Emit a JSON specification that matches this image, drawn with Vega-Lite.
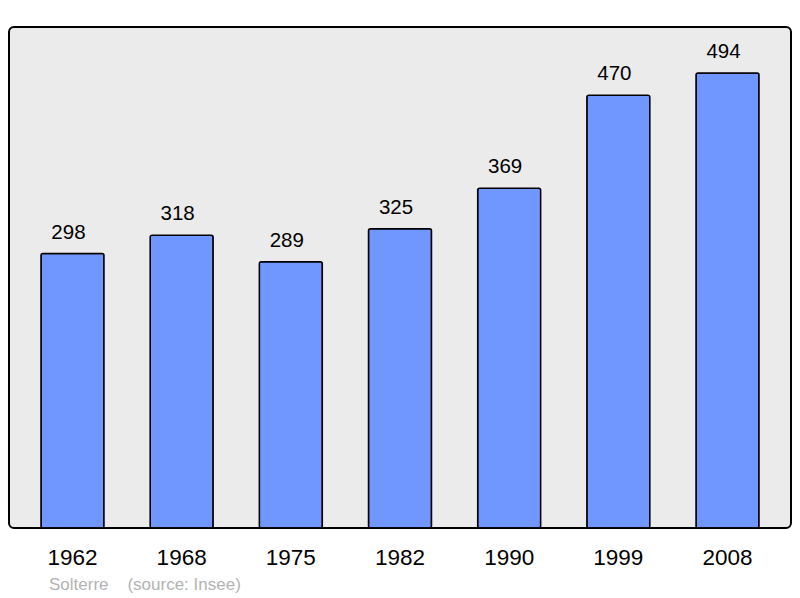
{
  "$schema": "https://vega.github.io/schema/vega-lite/v6.json",
  "width": 782,
  "height": 501,
  "autosize": "none",
  "padding": {"left": 9, "top": 27, "right": 9, "bottom": 70},
  "background": "white",
  "config": {
    "font": "Liberation Sans",
    "view": {"fill": "#ebebeb", "stroke": "#000000", "strokeWidth": 2, "cornerRadius": 5}
  },
  "title": {
    "text": "Solterre\u00a0\u00a0\u00a0\u00a0(source: Insee)",
    "orient": "bottom",
    "anchor": "start",
    "frame": "group",
    "dx": 40,
    "offset": 8,
    "font": "Liberation Sans",
    "fontSize": 17,
    "fontWeight": "normal",
    "color": "#b3b3b3"
  },
  "data": {
    "values": [
      {"year": "1962", "pop": 298},
      {"year": "1968", "pop": 318},
      {"year": "1975", "pop": 289},
      {"year": "1982", "pop": 325},
      {"year": "1990", "pop": 369},
      {"year": "1999", "pop": 470},
      {"year": "2008", "pop": 494}
    ]
  },
  "encoding": {
    "x": {
      "field": "year",
      "type": "ordinal",
      "scale": {"paddingInner": 0.423, "paddingOuter": 0.293},
      "axis": {
        "title": null,
        "labelAngle": 0,
        "labelFontSize": 22.5,
        "labelColor": "#000000",
        "labelBaseline": "alphabetic",
        "labelPadding": 36,
        "ticks": false,
        "domain": false
      }
    },
    "y": {
      "field": "pop",
      "type": "quantitative",
      "scale": {"domain": [0, 544], "nice": false},
      "axis": null
    }
  },
  "layer": [
    {
      "mark": {"type": "bar", "fill": "#7096ff", "stroke": "#000000", "strokeWidth": 1.5, "cornerRadius": 2}
    },
    {
      "mark": {"type": "text", "baseline": "alphabetic", "dy": -15, "dx": -4, "fontSize": 20.5, "color": "#000000"},
      "encoding": {"text": {"field": "pop", "type": "quantitative"}}
    }
  ]
}
